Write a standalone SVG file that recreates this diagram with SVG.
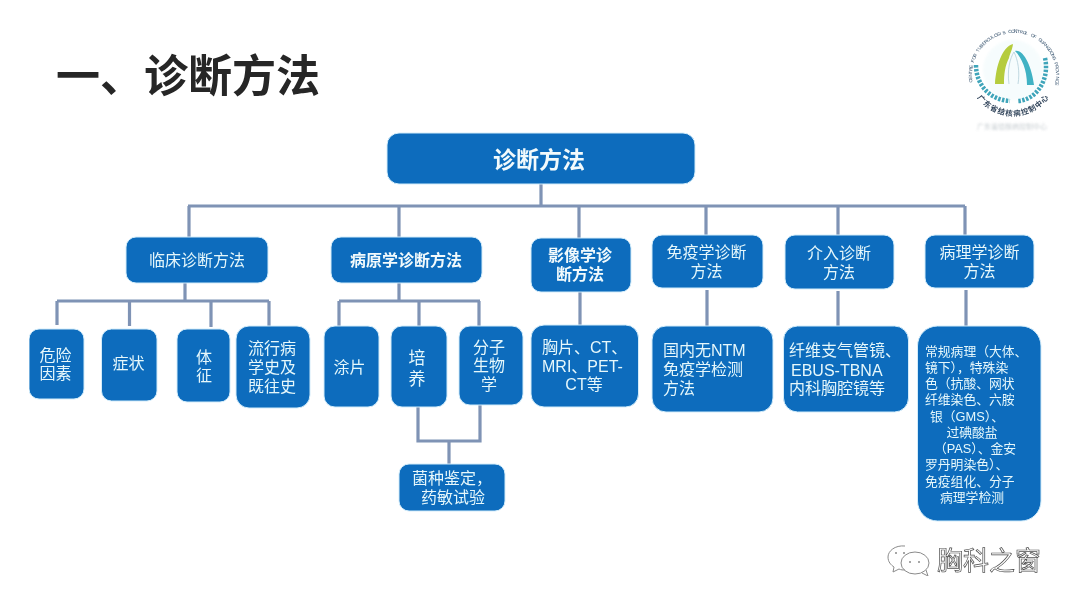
<svg xmlns="http://www.w3.org/2000/svg" width="1080" height="608" viewBox="0 0 1080 608">
<style>
text{font-family:"Liberation Sans","Noto Sans CJK SC",sans-serif}
.box{fill:#0a6cbd;stroke:#d3ecfa;stroke-width:1}
.t{fill:#e6f7fb;font-size:16px;text-anchor:middle}
.l{fill:#e6f7fb;font-size:16px}
.b{font-weight:700;fill:#f2fafc}
.s{font-size:12.800px}
.c path{fill:none;stroke:#7f93b5;stroke-width:3.200}
.w{fill:none;stroke:#8a8a8a;stroke-width:1}
</style>
<defs>
<filter id="soft" x="0" y="0" width="100%" height="100%"><feGaussianBlur stdDeviation="0.45"/></filter>
<filter id="blur" x="-10%" y="-30%" width="120%" height="160%"><feGaussianBlur stdDeviation="1"/></filter>
</defs>
<rect width="1080" height="608" fill="#ffffff"/>
<g id="page" filter="url(#soft)">
<text id="title" x="56" y="92" font-size="44" font-weight="700" fill="#262626">一、诊断方法</text>

<g id="logo">
<circle cx="1013" cy="70" r="30" fill="#eef9fb" opacity="0.5" filter="url(#blur)"/>
<text font-size="4.600" fill="#2f4c68" x="972.6 972.2 972 972 972.2 972.5 973.1 973.8 974.7 975.8 977.1 978.5 980.1 981.8 983.7 985.7 987.9 990.1 992.5 995 997.5 1000.2 1002.9 1005.6 1008.4 1011.2 1014 1016.8 1019.6 1022.4 1025.1 1027.8 1030.5 1033 1035.5 1037.9 1040.1 1042.3 1044.3 1046.2 1047.9 1049.5 1050.9 1052.2 1053.3 1054.2 1054.9 1055.5 1055.8 1056 1056 1055.8 1055.4" y="82.2 79.4 76.6 73.8 71 68.2 65.4 62.7 60 57.4 54.9 52.5 50.1 47.9 45.8 43.8 42 40.3 38.8 37.5 36.3 35.2 34.4 33.7 33.3 33 32.9 33 33.3 33.7 34.4 35.2 36.3 37.5 38.8 40.3 42 43.8 45.8 47.9 50.1 52.5 54.9 57.4 60 62.7 65.4 68.2 71 73.8 76.6 79.4 82.2" rotate="-100 -96 -92 -88 -85 -81 -77 -73 -69 -65 -62 -58 -54 -50 -46 -42 -38 -35 -31 -27 -23 -19 -15 -12 -8 -4 0 4 8 12 15 19 23 27 31 35 38 42 46 50 54 58 62 65 69 73 77 81 85 88 92 96 100">CENTRE FOR TUBERCULOSIS CONTROL OF GUANGDONG PROVINCE</text>
<text font-size="7.500" font-weight="700" fill="#33465c" x="977.1 982.7 989.4 996.9 1005.1 1013.5 1021.9 1030 1037.5 1044.1" y="97.7 104.1 109.3 113.1 115.4 116.2 115.3 112.7 108.7 103.5" rotate="50 39 28 17 6 -6 -17 -28 -39 -50">广东省结核病控制中心</text>
<path d="M995 84C996 66 1002 47 1013 44C1012 51 1010 53 1009 58C1005 66 1004 74 1004 84Z" fill="#b5cc3c"/>
<path d="M1015 51C1024 49 1032 68 1034 85L1027 85C1027 70 1022 58 1015 51Z" fill="#3fb2c4"/>
<path d="M1009 84C1007 70 1010 58 1014 52C1018 60 1020 72 1018 84" fill="none" stroke="#a9c9d4" stroke-width="0.700"/>
<path d="M976 65C976 85 990 100 1010 101" fill="none" stroke="#3fa5ba" stroke-width="4.500" stroke-dasharray="2.500 1.400"/>
<path d="M1045 58C1050 80 1036 100 1018 101" fill="none" stroke="#3fa5ba" stroke-width="4.500" stroke-dasharray="2.500 1.400"/>
<text x="1012" y="129" font-size="7" fill="#9aa5ac" text-anchor="middle" opacity="0.55" filter="url(#blur)">广东省结核病控制中心</text>
</g>

<g id="connectors" class="c">
<path d="M541 184V206M188 206H965M189 206V237M399 206V237M579 206V238M706 206V235M838 206V235M965 206V235"/>
<path d="M185 283V301M57 301H269M57 301V325M129.500 301V326M211 301V327M269 301V326"/>
<path d="M399 283V301M339 301H480M339 301V326M419 301V326M479 301V326"/>
<path d="M580 292V325M707 290V326M838 291V326M966 290V326"/>
<path d="M418 407V441H480V405M449 441V464"/>
</g>

<g id="n-root"><rect class="box" x="387" y="133" width="308" height="51" rx="12"/><text class="t b" x="539" y="168" style="font-size:23px">诊断方法</text></g>
<g id="n-clinical"><rect class="box" x="126" y="237" width="142" height="46" rx="10"/><text class="t" x="197" y="266">临床诊断方法</text></g>
<g id="n-etiology"><rect class="box" x="331" y="237" width="151" height="46" rx="10"/><text class="t b" x="406" y="266">病原学诊断方法</text></g>
<g id="n-imaging"><rect class="box" x="531" y="238" width="100" height="54" rx="10"/><text class="t b" x="580" y="261">影像学诊</text><text class="t b" x="580" y="280">断方法</text></g>
<g id="n-immune"><rect class="box" x="652" y="235" width="111" height="53" rx="10"/><text class="t" x="706.500" y="258">免疫学诊断</text><text class="t" x="706.500" y="277">方法</text></g>
<g id="n-interventional"><rect class="box" x="785" y="235" width="109" height="54" rx="10"/><text class="t" x="839" y="259">介入诊断</text><text class="t" x="839" y="278">方法</text></g>
<g id="n-pathology"><rect class="box" x="925" y="235" width="109" height="53" rx="10"/><text class="t" x="979.500" y="258">病理学诊断</text><text class="t" x="979.500" y="277">方法</text></g>

<g id="n-risk"><rect class="box" x="29" y="329" width="55" height="70" rx="10"/><text class="t" x="55.500" y="361">危险</text><text class="t" x="55.500" y="379">因素</text></g>
<g id="n-symptom"><rect class="box" x="101.500" y="329" width="55.500" height="72" rx="10"/><text class="t" x="128.500" y="369">症状</text></g>
<g id="n-sign"><rect class="box" x="177" y="329" width="53" height="73" rx="10"/><text class="t" x="204" y="363">体</text><text class="t" x="204" y="381">征</text></g>
<g id="n-history"><rect class="box" x="236" y="326" width="74" height="82" rx="13"/><text class="t" x="272" y="354">流行病</text><text class="t" x="272" y="373">学史及</text><text class="t" x="272" y="392">既往史</text></g>
<g id="n-smear"><rect class="box" x="324" y="326" width="55" height="81" rx="11"/><text class="t" x="349.500" y="373">涂片</text></g>
<g id="n-culture"><rect class="box" x="391" y="326" width="56" height="81" rx="11"/><text class="t" x="417" y="363.500" style="font-size:17px">培</text><text class="t" x="417" y="384.500" style="font-size:17px">养</text></g>
<g id="n-molecular"><rect class="box" x="459" y="326" width="64" height="79" rx="11"/><text class="t" x="489" y="353">分子</text><text class="t" x="489" y="371">生物</text><text class="t" x="489" y="390">学</text></g>
<g id="n-chest"><rect class="box" x="531" y="325" width="107.500" height="82" rx="13"/><text class="l" x="542" y="353">胸片、CT、</text><text class="l" x="542" y="372">MRI、PET-</text><text class="t" x="584" y="390">CT等</text></g>
<g id="n-ntm"><rect class="box" x="652" y="326" width="121" height="86" rx="14"/><text class="l" x="663" y="356">国内无NTM</text><text class="l" x="663" y="375">免疫学检测</text><text class="l" x="663" y="394">方法</text></g>
<g id="n-bronch"><rect class="box" x="783.500" y="326" width="125" height="86" rx="14"/><text class="l" x="789" y="356">纤维支气管镜、</text><text class="l" x="791" y="376">EBUS-TBNA</text><text class="l" x="789" y="394">内科胸腔镜等</text></g>
<g id="n-patho-detail"><rect class="box" x="917.500" y="326" width="123.500" height="195" rx="20"/>
<text class="l s" x="925" y="356">常规病理（大体、</text>
<text class="l s" x="925" y="372">镜下），特殊染</text>
<text class="l s" x="925" y="388">色（抗酸、网状</text>
<text class="l s" x="925" y="404">纤维染色、六胺</text>
<text class="l s" x="930" y="421">银（GMS）、</text>
<text class="t s" x="972" y="437">过碘酸盐</text>
<text class="t s" x="975" y="453">（PAS）、金安</text>
<text class="l s" x="925" y="469">罗丹明染色）、</text>
<text class="l s" x="925" y="486">免疫组化、分子</text>
<text class="t s" x="972" y="502">病理学检测</text></g>
<g id="n-identify"><rect class="box" x="399" y="464" width="106" height="47" rx="10"/><text class="l" x="412" y="484">菌种鉴定，</text><text class="l" x="421" y="503">药敏试验</text></g>

<g id="watermark">
<path class="w" d="M905 546C895 545 888 551 888 557C888 562 891 565 894 567L893 572L899 569C901 570 903 570 905 570"/>
<ellipse class="w" cx="915" cy="563" rx="14" ry="11"/>
<path class="w" d="M922 573L928 576L926 570"/>
<circle cx="910" cy="562" r="1" fill="#8a8a8a"/><circle cx="919" cy="562" r="1" fill="#8a8a8a"/>
<circle cx="896" cy="553" r="1" fill="#8a8a8a"/><circle cx="904" cy="553" r="1" fill="#8a8a8a"/>
<text x="937" y="570" font-size="26" fill="#ffffff" stroke="#4f4f4f" stroke-width="0.700">胸科之窗</text>
</g>
</g>
</svg>
